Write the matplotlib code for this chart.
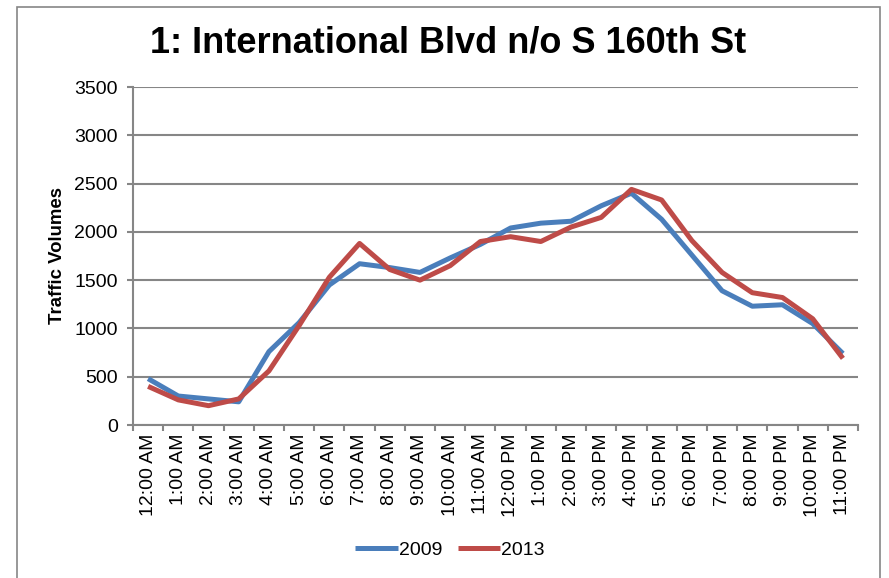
import matplotlib
matplotlib.use('Agg')
import matplotlib.pyplot as plt
import numpy as np

plt.rcParams['font.family'] = ['Liberation Sans', 'DejaVu Sans']

hours = ['12:00 AM', '1:00 AM', '2:00 AM', '3:00 AM', '4:00 AM', '5:00 AM',
         '6:00 AM', '7:00 AM', '8:00 AM', '9:00 AM', '10:00 AM', '11:00 AM',
         '12:00 PM', '1:00 PM', '2:00 PM', '3:00 PM', '4:00 PM', '5:00 PM',
         '6:00 PM', '7:00 PM', '8:00 PM', '9:00 PM', '10:00 PM', '11:00 PM']
vol_2009 = [480, 300, 270, 240, 760, 1060, 1450, 1670, 1630, 1580, 1730, 1870,
            2040, 2090, 2110, 2270, 2400, 2130, 1760, 1390, 1230, 1245, 1050, 740]
vol_2013 = [400, 260, 200, 270, 560, 1030, 1530, 1880, 1610, 1500, 1650, 1900,
            1950, 1900, 2050, 2150, 2440, 2330, 1910, 1580, 1370, 1320, 1100, 690]

blue = '#4A7EBB'
red = '#BE4B48'
grey = '#868686'

fig = plt.figure(figsize=(8.89, 5.78), dpi=100)
ax = fig.add_axes([133/889, 1-425/578, (858-133)/889, (425-87)/578])

x = np.arange(len(hours))
ax.plot(x, vol_2009, color=blue, lw=3.6, label='2009', solid_capstyle='butt')
ax.plot(x, vol_2013, color=red, lw=3.6, label='2013', solid_capstyle='butt')

ax.set_xlim(-0.5, len(hours) - 0.5)
ax.set_ylim(0, 3500)
ax.set_yticks(np.arange(0, 3501, 500))
ax.yaxis.grid(True, color=grey, lw=1.5)
ax.set_axisbelow(True)

ax.set_xticks(x)
ax.set_xticklabels(hours, rotation=90, fontsize=14)
ax.set_xticks(np.arange(-0.5, len(hours)), minor=True)
ax.tick_params(axis='x', which='major', length=0, pad=6)
ax.tick_params(axis='x', which='minor', length=4, width=1.5, color=grey)
ax.tick_params(axis='y', length=4, width=1.5, color=grey, labelsize=14, pad=7)

for s in ['top', 'right']:
    ax.spines[s].set_visible(False)
for s in ['left', 'bottom']:
    ax.spines[s].set_color(grey)
    ax.spines[s].set_linewidth(1.5)

ax.set_ylabel('Traffic Volumes', fontsize=13.4, fontweight='bold', labelpad=6)
fig.text(448/889, 1-43/578, '1: International Blvd n/o S 160th St',
         fontsize=26, fontweight='bold', ha='center', va='center')

ax.legend(loc='center', bbox_to_anchor=(450/889, 1-550/578), bbox_transform=fig.transFigure,
          ncol=2, frameon=False, fontsize=14, handlelength=2.2, handletextpad=0.05,
          columnspacing=0.8)

# chart border
fig.patches.append(plt.Rectangle((17/889, -0.01), (880-17)/889, 1-7/578 + 0.01,
                                 transform=fig.transFigure, fill=False,
                                 edgecolor=grey, lw=1.2))

fig.savefig('out.png', dpi=100)
